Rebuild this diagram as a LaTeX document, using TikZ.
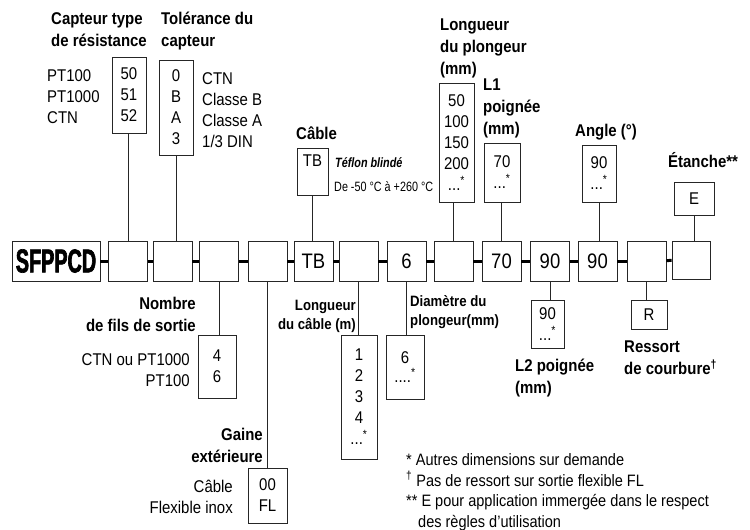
\documentclass[tikz,border=0pt]{standalone}
\usepackage{fontspec}
\setmainfont{Liberation Sans}[FakeStretch=0.88]
\newfontfamily\narrowfont{Liberation Sans}[FakeStretch=0.8]
\newfontfamily\logofont{Liberation Sans}[FakeStretch=0.6,FakeBold=2]
\usetikzlibrary{positioning}

\begin{document}
\begin{tikzpicture}[x=1pt, y=-1pt,
    % boxes of the order code and of the option lists
    codebox/.style={rectangle, draw=black!85, line width=0.9pt, minimum width=39pt, minimum height=40pt, inner sep=0pt, font=\fontsize{21}{22}\selectfont},
    optbox/.style={rectangle, draw=black!85, line width=0.9pt, inner sep=0pt, align=center, font=\fontsize{17}{21}\selectfont},
    heading/.style={inner sep=0pt, font=\bfseries\fontsize{17}{22}\selectfont},
    subheading/.style={inner sep=0pt, font=\bfseries\fontsize{15}{19}\selectfont},
    plain/.style={inner sep=0pt, font=\fontsize{17}{21}\selectfont},
    link/.style={line width=3pt, black},
    wire/.style={line width=0.9pt, black!85}
]
\useasboundingbox (0,0) rectangle (750,530);

% Order code row
\node[codebox, minimum width=88pt, font=\logofont\bfseries\fontsize{33}{33}\selectfont] (code) at (56, 261) {SFPPCD};
\node[codebox] (box1) at (128, 261) {};
\node[codebox] (box2) at (172.5, 261) {};
\node[codebox] (box3) at (219, 261) {};
\node[codebox] (box4) at (267.5, 261) {};
\node[codebox] (box5) at (313.5, 261) {TB};
\node[codebox] (box6) at (358.5, 261) {};
\node[codebox] (box7) at (406.5, 261) {6};
\node[codebox] (box8) at (453.5, 261) {};
\node[codebox] (box9) at (501.5, 261) {70};
\node[codebox] (box10) at (550, 261) {90};
\node[codebox] (box11) at (597.5, 261) {90};
\node[codebox] (box12) at (646.5, 261) {};
\node[codebox, minimum width=38pt, minimum height=38pt] (box13) at (691, 260) {};

\draw[link] (code) -- (box1);
\draw[link] (box1) -- (box2);
\draw[link] (box2) -- (box3);
\draw[link] (box3) -- (box4);
\draw[link] (box4) -- (box5);
\draw[link] (box5) -- (box6);
\draw[link] (box6) -- (box7);
\draw[link] (box7) -- (box8);
\draw[link] (box8) -- (box9);
\draw[link] (box9) -- (box10);
\draw[link] (box10) -- (box11);
\draw[link] (box11) -- (box12);
\draw[link] (box12) -- (box13);

% Options above the row
\node[heading, anchor=west, align=left] (restitle) at (51, 30) {Capteur type\\de résistance};
\node[optbox, minimum width=34pt, minimum height=76pt] (res) at (129, 95) {50\\51\\52};
\node[plain, anchor=west, align=left] (resnames) at (47, 97) {PT100\\PT1000\\CTN};

\node[heading, anchor=west, align=left] (toltitle) at (161, 31) {Tolérance du\\capteur};
\node[optbox, minimum width=34pt, minimum height=95pt] (tol) at (176, 107.5) {0\\B\\A\\3};
\node[plain, anchor=west, align=left] (tolnames) at (202, 110) {CTN\\Classe B\\Classe A\\1/3 DIN};

\node[heading, anchor=west] (cabtitle) at (296, 133) {Câble};
\node[optbox, minimum width=31pt, minimum height=47pt] (cab) at (312.5, 171.5) {TB\\ \mbox{}};
\node[inner sep=0pt, anchor=west, font=\narrowfont\bfseries\itshape\fontsize{13.5}{14}\selectfont] (teflon) at (335, 163) {Téflon blindé};
\node[inner sep=0pt, anchor=west, font=\narrowfont\fontsize{13.5}{14}\selectfont] (temp) at (334, 187) {De -50 °C à +260 °C};

\node[heading, anchor=west, align=left] (plotitle) at (440, 48) {Longueur\\du plongeur\\(mm)};
\node[optbox, minimum width=35pt, minimum height=119pt] (plo) at (456.5, 142.5) {50\\100\\150\\200\\...\textsuperscript{*}};

\node[heading, anchor=west, align=left] (l1title) at (483, 108) {L1\\poignée\\(mm)};
\node[optbox, minimum width=36pt, minimum height=59pt] (l1) at (502, 172.5) {70\\...\textsuperscript{*}};

\node[heading, anchor=west] (angtitle) at (575, 132) {Angle (°)};
\node[optbox, minimum width=34pt, minimum height=57pt] (ang) at (599, 173.5) {90\\...\textsuperscript{*}};

\node[heading, anchor=west] (etatitle) at (668, 160) {Étanche**};
\node[optbox, minimum width=40pt, minimum height=33pt] (eta) at (694, 198.5) {E};

\draw[wire] (box1.north) -- (box1.north |- res.south);
\draw[wire] (tol.south) -- (tol.south |- box2.north);
\draw[wire] (cab.south) -- (cab.south |- box5.north);
\draw[wire] (box8.north) -- (box8.north |- plo.south);
\draw[wire] (box9.north) -- (box9.north |- l1.south);
\draw[wire] (ang.south) -- (ang.south |- box11.north);
\draw[wire] (eta.south) -- (eta.south |- box13.north);

% Options below the row
\node[heading, anchor=east, align=right] (filtitle) at (196, 314) {Nombre\\de fils de sortie};
\node[optbox, minimum width=38pt, minimum height=63pt] (fil) at (217, 366.5) {4\\6};
\node[plain, anchor=east, align=right] (filnames) at (190, 370.5) {CTN ou PT1000\\PT100};

\node[heading, anchor=east, align=right] (gaititle) at (263, 445.5) {Gaine\\extérieure};
\node[optbox, minimum width=39pt, minimum height=55pt] (gai) at (267.5, 495.5) {00\\FL};
\node[plain, anchor=east, align=right] (gainames) at (233, 497) {Câble\\Flexible inox};

\node[subheading, anchor=east, align=right] (lcatitle) at (356, 316) {Longueur\\du câble (m)};
\node[optbox, minimum width=36pt, minimum height=124pt] (lca) at (359, 397) {1\\2\\3\\4\\...\textsuperscript{*}};

\node[subheading, anchor=west, align=left] (diatitle) at (410, 312.5) {Diamètre du\\plongeur(mm)};
\node[optbox, minimum width=38pt, minimum height=64pt, font=\fontsize{17}{19}\selectfont] (dia) at (405, 367) {6\\....\textsuperscript{*}};

\node[optbox, minimum width=33pt, minimum height=48pt] (l2) at (547.5, 324) {90\\...\textsuperscript{*}};
\node[heading, anchor=west, align=left] (l2title) at (515, 378.5) {L2 poignée\\(mm)};

\node[optbox, minimum width=36pt, minimum height=29pt] (spr) at (649, 314.5) {R};
\node[heading, anchor=west, align=left] (sprtitle) at (624, 358) {Ressort\\de courbure\textsuperscript{†}};

\draw[wire] (box3.south) -- (box3.south |- fil.north);
\draw[wire] (box4.south) -- (box4.south |- gai.north);
\draw[wire] (box6.south) -- (box6.south |- lca.north);
\draw[wire] (box7.south) -- (box7.south |- dia.north);
\draw[wire] (box10.south) -- (box10.south |- l2.north);
\draw[wire] (box12.south) -- (box12.south |- spr.north);

% Notes
\node[plain, anchor=west, align=left, font=\fontsize{16.5}{20.5}\selectfont] (notes) at (406, 492) {* Autres dimensions sur demande\\\textsuperscript{†} Pas de ressort sur sortie flexible FL\\** E pour application immergée dans le respect\\\hspace*{12pt}des règles d'utilisation};

\end{tikzpicture}
\end{document}
